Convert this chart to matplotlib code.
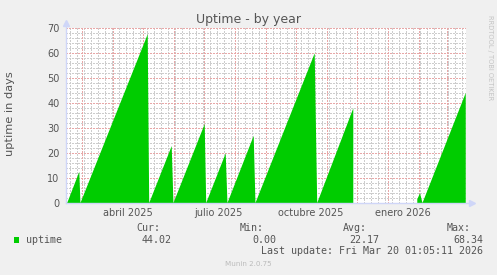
import numpy as np
import pandas as pd
import matplotlib
matplotlib.use("Agg")
import matplotlib.pyplot as plt
import matplotlib.dates as mdates
from matplotlib.patches import Rectangle

# uptime samples (days); NaN = no data
sample_dates = [
    "2025-02-13 01:05", "2025-02-14 12:00", "2025-02-26 14:00",
    "2025-02-27 18:00", "2025-05-06 00:00",
    "2025-05-07 12:00", "2025-05-30 00:00",
    "2025-05-31 18:00", "2025-07-02 00:00",
    "2025-07-03 12:00", "2025-07-23 00:00",
    "2025-07-24 18:00", "2025-08-20 00:00",
    "2025-08-21 18:00", "2025-10-20 00:00",
    "2025-10-22 12:00", "2025-11-27 14:00",
    "2025-11-28 00:00",
    "2026-01-30 14:00", "2026-02-02 07:00",
    "2026-02-04 19:00", "2026-03-20 01:05",
]
uptime_days = [
    5.5, 0.0, 12.5,
    0.0, 67.5,
    0.0, 22.8,
    0.0, 31.6,
    0.0, 19.9,
    0.0, 26.9,
    0.0, 59.9,
    0.0, 37.9,
    np.nan,
    1.5, 3.9,
    0.0, 44.02,
]

x_label_dates = ["2025-04-16", "2025-07-16", "2025-10-16", "2026-01-16"]
x_labels = ["abril 2025", "julio 2025", "octubre 2025", "enero 2026"]

stat_names = ["Cur:", "Min:", "Avg:", "Max:"]
stat_values = [44.02, 0.00, 22.17, 68.34]
stat_x = [136, 240, 343, 447]

last_update = "Fri Mar 20 01:05:11 2026"
end = pd.Timestamp("2026-03-20 01:05:11")
start = end - pd.Timedelta(days=400)

W, H = 497, 275
FONT = "#555555"
AXIS = "#CFD6F8"
GREEN = "#00CC00"
MINOR = "#CDCDCD"
MAJOR = "#E8A8A8"
DOT = (0, (1.4, 1.4))
GRID = dict(ls=DOT, lw=0.72, zorder=1, antialiased=False)


def px(x, y):
    # pixel position -> figure fraction
    return x / W, 1 - y / H


fig = plt.figure(figsize=(W / 100, H / 100), dpi=100, facecolor="#F0F0F0")
ax = fig.add_axes([65.75 / W, 72 / H, 400 / W, 175 / H])
ax.set_facecolor("white")

dates = pd.to_datetime(sample_dates)
ax.fill_between(dates, uptime_days, 0, color=GREEN, lw=0, zorder=3)

ax.set_xlim(start, end)
ax.set_ylim(0, 70)

# dotted grid
ax.set_yticks(range(0, 71, 10))
for v in np.arange(2, 70, 2):
    if v % 10:
        ax.axhline(v, color=MINOR, **GRID)
s_num, e_num = mdates.date2num(start), mdates.date2num(end)
for w in mdates.WeekdayLocator(byweekday=mdates.MO).tick_values(start, end):
    if s_num < w < e_num:
        ax.axvline(w, color=MINOR, **GRID)
for v in range(10, 71, 10):
    ax.axhline(v, color=MAJOR, **GRID)
for m in mdates.MonthLocator().tick_values(start, end):
    if s_num < m < e_num:
        ax.axvline(m, color=MAJOR, **GRID)

ax.set_xticks(mdates.date2num(pd.to_datetime(x_label_dates)))
ax.set_xticklabels(x_labels)
ax.tick_params(axis="both", which="both", length=0, labelsize=7, colors=FONT)
ax.tick_params(axis="x", pad=3.5)
ax.tick_params(axis="y", pad=4.5)

for sp in ax.spines.values():
    sp.set_visible(False)

# axes with arrows
ax.plot([0, 0], [0, 1.02], transform=ax.transAxes, color=AXIS, lw=1,
        clip_on=False, zorder=4)
ax.plot([0], [1.026], transform=ax.transAxes, marker="^", ms=5, color=AXIS,
        mec=AXIS, clip_on=False, zorder=4)
ax.plot([0, 1.01], [0, 0], transform=ax.transAxes, color=AXIS, lw=1,
        clip_on=False, zorder=4)
ax.plot([1.0145], [0], transform=ax.transAxes, marker=">", ms=5, color=AXIS,
        mec=AXIS, clip_on=False, zorder=4)

fig.text(*px(248, 19), "Uptime - by year", ha="center", va="center",
         fontsize=9, color=FONT)
fig.text(*px(10, 114), "uptime in days", rotation=90, ha="center",
         va="center", fontsize=8.2, color=FONT)
fig.text(*px(490, 58), "RRDTOOL / TOBI OETIKER", rotation=270, ha="center",
         va="center", fontsize=4.8, color="#C4C4C4")

# legend block
mono = "DejaVu Sans Mono"
fig.add_artist(Rectangle(px(14, 243), 5 / W, 6 / H, transform=fig.transFigure,
                         facecolor=GREEN, edgecolor="none"))
fig.text(*px(26, 240), "uptime", ha="left", va="center", family=mono,
         fontsize=7.2, color=FONT)
for name, val, x in zip(stat_names, stat_values, stat_x):
    fig.text(*px(x, 228), name, ha="left", va="center", family=mono,
             fontsize=7.2, color=FONT)
    fig.text(*px(x + 36, 240), f"{val:.2f}", ha="right", va="center",
             family=mono, fontsize=7.2, color=FONT)
fig.text(*px(483, 251), "Last update: " + last_update, ha="right",
         va="center", family=mono, fontsize=7.2, color=FONT)
fig.text(*px(248, 264), "Munin 2.0.75", ha="center", va="center",
         fontsize=5.1, color="#BBBBBB")

fig.savefig("out.png", dpi=100, facecolor=fig.get_facecolor())
